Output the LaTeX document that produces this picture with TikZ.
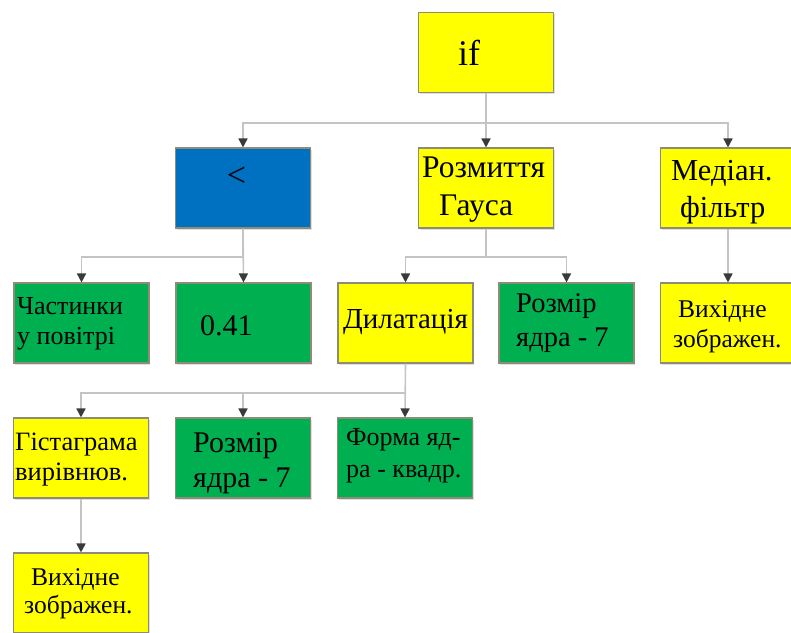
\documentclass[tikz,border=0pt]{standalone}
\usepackage{fontspec}
\setmainfont{Liberation Serif}
\usetikzlibrary{arrows.meta,shadows}
\definecolor{boxyellow}{HTML}{FFFF00}
\definecolor{boxblue}{HTML}{0070C0}
\definecolor{boxgreen}{HTML}{00B050}
\definecolor{boxedge}{HTML}{8C8C78}
\definecolor{wire}{HTML}{C4C4C4}
\definecolor{tipgray}{HTML}{3A3A3A}
\newcommand\fs[2]{\fontsize{#1pt}{#2pt}\selectfont}
\newcommand\twoline[2]{\begin{tabular}[t]{@{}l@{}}#1\\#2\end{tabular}}
\tikzset{
  box/.style={rectangle, minimum width=135pt, minimum height=80pt, inner sep=0pt,
    draw=boxedge, line width=1.1pt,
    drop shadow={shadow xshift=1pt, shadow yshift=-1.5pt, opacity=0.25}},
  yel/.style={box, fill=boxyellow},
  blu/.style={box, fill=boxblue},
  grn/.style={box, fill=boxgreen},
  txt/.style={inner sep=0pt, anchor=base west},
  conn/.style={draw=wire, line width=1.6pt,
    -{Triangle[width=9pt, length=9pt, color=tipgray]}},
}
\begin{document}
\begin{tikzpicture}[x=1pt, y=-1pt]
\useasboundingbox (0,0) rectangle (791,632);

% boxes
\node[yel] (if)    at (486,52.5) {};
\node[blu] (lt)    at (243,188)  {};
\node[yel] (gauss) at (486,188)  {};
\node[yel] (med)   at (728,188)  {};
\node[grn] (part)  at (81.5,323) {};
\node[grn] (val)   at (243.5,323){};
\node[yel] (dil)   at (405.5,323){};
\node[grn] (ksa)   at (566.5,323){};
\node[yel] (outa)  at (728,323)  {};
\node[yel] (hist)  at (81,458)   {};
\node[grn] (ksb)   at (243,458)  {};
\node[grn] (shp)   at (405,458)  {};
\node[yel] (outb)  at (81,593)   {};

% labels
\node[txt, font=\fs{36}{40}] (if-t)   at (458,65)  {if};
\node[inner sep=0pt, font=\fs{34}{36}] (lt-t) at (236.5,177) {<};
\node[txt, font=\fs{31.5}{38}] (gauss-t) at (422,177) {\twoline{Розмиття}{\hspace{17pt}Гауса}};
\node[txt, font=\fs{30.5}{37}] (med-t)  at (671,180) {\twoline{Медіан.}{\hspace{9pt}фільтр}};
\node[txt, font=\fs{26}{30}] (part-t) at (17,314)  {\twoline{Частинки}{у повітрі}};
\node[txt, font=\fs{30}{34}] (val-t)  at (200,335) {0.41};
\node[txt, font=\fs{29}{34}] (dil-t)  at (343,328) {Дилатація};
\node[txt, font=\fs{28.5}{34}] (ksa-t)  at (516,312) {\twoline{Розмір}{ядра - 7}};
\node[txt, font=\fs{25.5}{30}] (outa-t) at (678,317) {\twoline{Вихідне}{\hspace{-5pt}зображен.}};
\node[txt, font=\fs{26.5}{30}] (hist-t) at (15,450)  {\twoline{Гістаграма}{вирівнюв.}};
\node[txt, font=\fs{30}{35}] (ksb-t)  at (193,452) {\twoline{Розмір}{ядра - 7}};
\node[txt, font=\fs{26}{32}] (shp-t)  at (346,445) {\twoline{Форма яд-}{ра - квадр.}};
\node[txt, font=\fs{25.5}{28}] (outb-t) at (31,585)  {\twoline{Вихідне}{\hspace{-7pt}зображен.}};

% bus levels of the tree
\coordinate (busa) at (0,123);
\coordinate (busb) at (0,257);
\coordinate (busc) at (0,393);

% connectors
\draw[conn] (if.south) -- (if.south |- busa) -| (lt.north);
\draw[conn] (if.south) -- (gauss.north);
\draw[conn] (if.south) -- (if.south |- busa) -| (med.north);

\draw[conn] (lt.south) -- (lt.south |- busb) -| (part.north);
\draw[conn] (lt.south) -- (val.north);

\draw[conn] (gauss.south) -- (gauss.south |- busb) -| (dil.north);
\draw[conn] (gauss.south) -- (gauss.south |- busb) -| (ksa.north);

\draw[conn] (med.south) -- (outa.north);

\draw[conn] (dil.south) -- (dil.south |- busc) -| (hist.north);
\draw[conn] (dil.south) -- (dil.south |- busc) -| (ksb.north);
\draw[conn] (dil.south) -- (shp.north);

\draw[conn] (hist.south) -- (outb.north);
\end{tikzpicture}
\end{document}
